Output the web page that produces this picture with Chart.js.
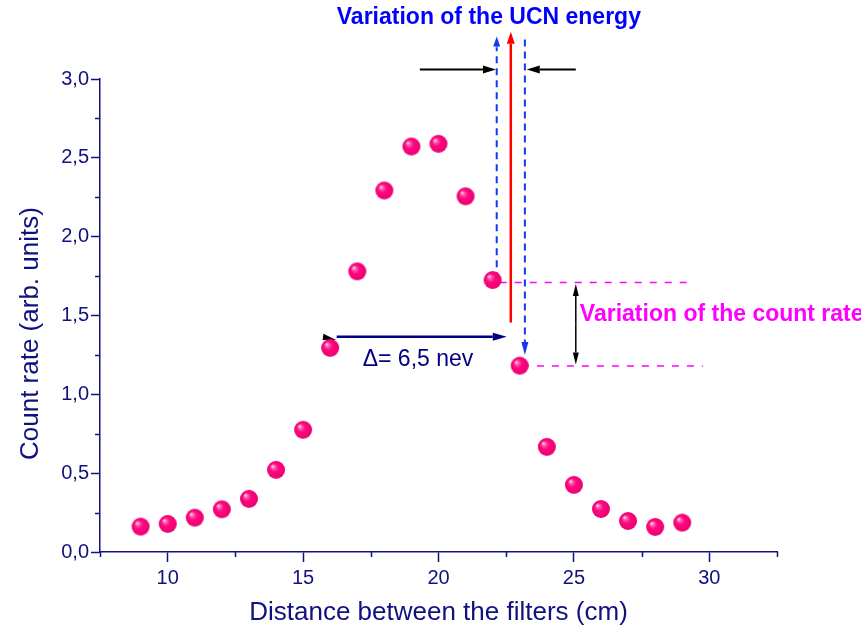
<!DOCTYPE html>
<html>
<head>
<meta charset="utf-8">
<script src="https://cdn.jsdelivr.net/npm/chart.js@4.4.1/dist/chart.umd.min.js"></script>
<style>
  html, body { margin: 0; padding: 0; background: #fff; }
  #wrap { width: 861px; height: 631px; }
</style>
</head>
<body>
<div id="wrap"><canvas id="chart" width="861" height="631"></canvas></div>
<script>
// measured points
const distances = [9, 10, 11, 12, 13, 14, 15, 16, 17, 18, 19, 20, 21, 22, 23, 24, 25, 26, 27, 28, 29];
const countRates = [0.161, 0.178, 0.218, 0.271, 0.337, 0.521, 0.775, 1.295, 1.78, 2.293, 2.572, 2.589, 2.256, 1.725, 1.182, 0.667, 0.426, 0.273, 0.197, 0.159, 0.186];

const xRange = [7.5, 32.5];
const yRange = [0, 3];
const xStep = 2.5;
const yStep = 0.25;

const navy = "#10107f";
const font = "'Liberation Sans', Arial, sans-serif";

// shiny ball used as point style
function makeSphere(r) {
    const c = document.createElement("canvas");
    const s = r * 2 + 2;
    c.width = s;
    c.height = s;
    const g = c.getContext("2d");
    const cx = s / 2, cy = s / 2;
    const grad = g.createRadialGradient(cx - r * 0.4, cy - r * 0.4, 0.5, cx, cy, r);
    grad.addColorStop(0, "#ffd0e8");
    grad.addColorStop(0.18, "#ff5aaa");
    grad.addColorStop(0.45, "#ff0880");
    grad.addColorStop(1, "#ec0070");
    g.fillStyle = grad;
    g.beginPath();
    g.arc(cx, cy, r, 0, Math.PI * 2);
    g.fill();
    return c;
}

function isMajorX(v) { return Math.abs(v % 5) < 1e-6; }
function isMajorY(v) { return Math.abs(v * 2 - Math.round(v * 2)) < 1e-6; }

// helpers for the drawn annotations
function arrow(ctx, x1, y1, x2, y2, color, lw, headLen, headW) {
    const a = Math.atan2(y2 - y1, x2 - x1);
    const bx = x2 - headLen * Math.cos(a), by = y2 - headLen * Math.sin(a);
    ctx.strokeStyle = color;
    ctx.fillStyle = color;
    ctx.lineWidth = lw;
    ctx.beginPath();
    ctx.moveTo(x1, y1);
    ctx.lineTo(bx, by);
    ctx.stroke();
    ctx.beginPath();
    ctx.moveTo(x2, y2);
    ctx.lineTo(bx + headW * Math.sin(a), by - headW * Math.cos(a));
    ctx.lineTo(bx - headW * Math.sin(a), by + headW * Math.cos(a));
    ctx.closePath();
    ctx.fill();
}

function dashed(ctx, x1, y1, x2, y2, color, lw, dash) {
    ctx.save();
    ctx.strokeStyle = color;
    ctx.lineWidth = lw;
    ctx.setLineDash(dash);
    ctx.beginPath();
    ctx.moveTo(x1, y1);
    ctx.lineTo(x2, y2);
    ctx.stroke();
    ctx.restore();
}

const annotationPlugin = {
    id: "annotations",
    beforeDatasetsDraw(chart) {
        const ctx = chart.ctx;
        const X = (v) => chart.scales.x.getPixelForValue(v);
        const Y = (v) => chart.scales.y.getPixelForValue(v);
        ctx.save();

        // energy window
        const blue = "#1438f0";
        dashed(ctx, X(22.15), Y(1.73), X(22.15), Y(3.2), blue, 2, [7, 5]);
        arrow(ctx, X(22.15), Y(3.2), X(22.15), Y(3.27), blue, 2, 10, 3.5);
        dashed(ctx, X(23.19), Y(3.25), X(23.19), Y(1.33), blue, 2, [7, 5]);
        arrow(ctx, X(23.19), Y(1.33), X(23.19), Y(1.25), blue, 2, 13, 3.5);
        arrow(ctx, X(22.67), Y(1.455), X(22.67), Y(3.30), "#ff0000", 2.5, 12, 4);

        arrow(ctx, X(19.31), Y(3.06), X(22.12), Y(3.06), "#000", 2, 13, 4);
        arrow(ctx, X(25.07), Y(3.06), X(23.26), Y(3.06), "#000", 2, 13, 4);

        // count rate window
        dashed(ctx, X(22.26), Y(1.71), X(29.36), Y(1.71), "#ff00ff", 1.5, [7, 8]);
        dashed(ctx, X(23.08), Y(1.18), X(29.76), Y(1.18), "#ff00ff", 1.5, [7, 8]);
        arrow(ctx, X(25.07), Y(1.445), X(25.07), Y(1.70), "#000", 1.5, 12, 3);
        arrow(ctx, X(25.07), Y(1.445), X(25.07), Y(1.19), "#000", 1.5, 12, 3);

        // delta arrow
        arrow(ctx, X(16.24), Y(1.366), X(22.52), Y(1.366), "#000080", 2.5, 14, 4);
        ctx.fillStyle = "#000";
        ctx.beginPath();
        ctx.moveTo(X(15.75), Y(1.385));
        ctx.lineTo(X(16.22), Y(1.345));
        ctx.lineTo(X(15.72), Y(1.345));
        ctx.closePath();
        ctx.fill();

        // texts
        ctx.textBaseline = "middle";
        ctx.textAlign = "center";
        ctx.font = "bold 23px " + font;
        ctx.fillStyle = "#0000ff";
        ctx.fillText("Variation of the UCN energy", X(21.86), Y(3.39));

        ctx.textAlign = "left";
        ctx.fillStyle = "#ff00ff";
        ctx.fillText("Variation of the count rate", X(25.22), Y(1.506));

        ctx.font = "23px " + font;
        ctx.fillStyle = "#000080";
        ctx.fillText("\u0394= 6,5 nev", X(17.2), Y(1.22));
        ctx.restore();
    },
    afterDraw(chart) {
        // short minor ticks
        const ctx = chart.ctx;
        const xs = chart.scales.x, ys = chart.scales.y;
        ctx.save();
        ctx.strokeStyle = navy;
        ctx.lineWidth = 1.5;
        ctx.beginPath();
        for (let v = xRange[0]; v <= xRange[1] + 1e-6; v += xStep) {
            if (isMajorX(v)) continue;
            const px = Math.round(xs.getPixelForValue(v)) + 0.5;
            ctx.moveTo(px, ys.bottom);
            ctx.lineTo(px, ys.bottom + 5);
        }
        for (let v = yRange[0]; v <= yRange[1] + 1e-6; v += yStep) {
            if (isMajorY(v)) continue;
            const py = Math.round(ys.getPixelForValue(v)) + 0.5;
            ctx.moveTo(xs.left, py);
            ctx.lineTo(xs.left - 5, py);
        }
        ctx.stroke();
        ctx.restore();
    }
};

new Chart(document.getElementById("chart"), {
    type: "scatter",
    data: {
        datasets: [{
            label: "Count rate",
            data: distances.map((d, i) => ({ x: d, y: countRates[i] })),
            pointStyle: makeSphere(9),
            pointRadius: 9,
            pointHoverRadius: 9,
        }],
    },
    options: {
        responsive: false,
        animation: false,
        layout: { padding: { top: 79, right: 84, left: 0, bottom: 0 } },
        plugins: {
            legend: { display: false },
            tooltip: { enabled: false },
        },
        scales: {
            x: {
                type: "linear",
                min: xRange[0],
                max: xRange[1],
                afterFit: (scale) => { scale.height = 79; },
                ticks: {
                    stepSize: xStep,
                    autoSkip: false,
                    maxRotation: 0,
                    padding: 4,
                    color: navy,
                    font: { family: font, size: 20 },
                    callback: (v) => (isMajorX(v) ? String(v) : ""),
                },
                grid: {
                    drawOnChartArea: false,
                    tickLength: 10,
                    tickWidth: 1.5,
                    tickColor: (c) => (c.tick && isMajorX(c.tick.value) ? navy : "rgba(0,0,0,0)"),
                },
                border: { color: navy, width: 1.5 },
                title: {
                    display: true,
                    text: "Distance between the filters (cm)",
                    color: navy,
                    font: { family: font, size: 26 },
                    padding: { top: 0, bottom: 3 },
                },
            },
            y: {
                min: yRange[0],
                max: yRange[1],
                afterFit: (scale) => { scale.width = 100; },
                ticks: {
                    stepSize: yStep,
                    autoSkip: false,
                    padding: 2,
                    color: navy,
                    font: { family: font, size: 20 },
                    callback: (v) => (isMajorY(v) ? v.toFixed(1).replace(".", ",") : ""),
                },
                grid: {
                    drawOnChartArea: false,
                    tickLength: 9,
                    tickWidth: 1.5,
                    tickColor: (c) => (c.tick && isMajorY(c.tick.value) ? navy : "rgba(0,0,0,0)"),
                },
                border: { color: navy, width: 1.5 },
                title: {
                    display: true,
                    text: "Count rate (arb. units)     ",
                    color: navy,
                    font: { family: font, size: 26 },
                    padding: { top: 15, bottom: 0 },
                },
            },
        },
    },
    plugins: [annotationPlugin],
});
</script>
</body>
</html>
